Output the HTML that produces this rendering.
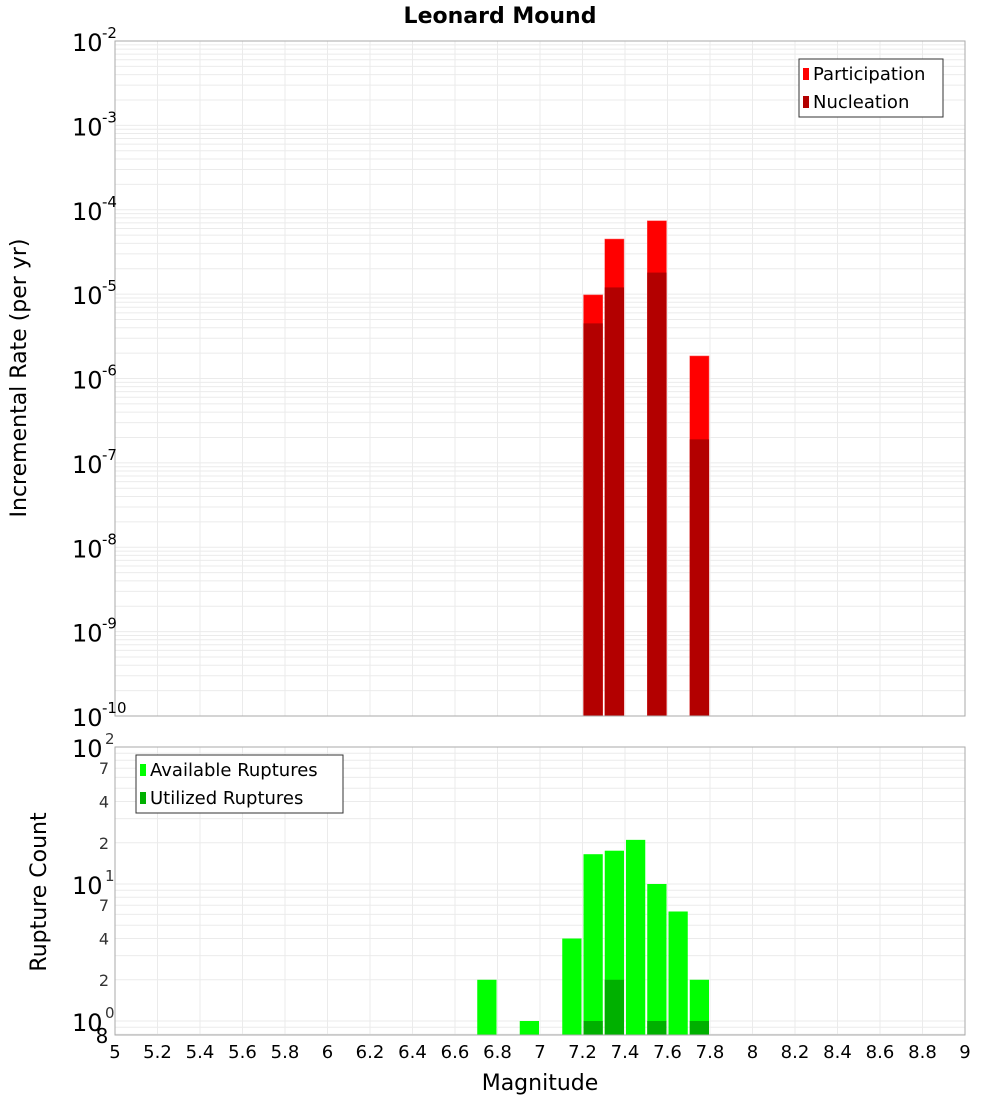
<!DOCTYPE html>
<html><head><meta charset="utf-8"><style>
body{margin:0;background:#fff;}
svg text{font-family:"DejaVu Sans","Liberation Sans",sans-serif;}
</style></head><body>
<svg id="chart" width="1000" height="1100" xmlns="http://www.w3.org/2000/svg"></svg>
<script>
const magnitudes=[6.75,6.95,7.15,7.25,7.35,7.45,7.55,7.65,7.75];
const participation=[0,0,0,9.8e-6,4.5e-5,0,7.4e-5,0,1.85e-6];
const nucleation=[0,0,0,4.5e-6,1.2e-5,0,1.8e-5,0,1.9e-7];
const available=[2,1,4,16.5,17.5,21,10,6.3,2];
const utilized=[0,0,0,1,2,0,1,0,1];
const xTicks=[5,5.2,5.4,5.6,5.8,6,6.2,6.4,6.6,6.8,7,7.2,7.4,7.6,7.8,8,8.2,8.4,8.6,8.8,9];
const topDecades=[-10,-9,-8,-7,-6,-5,-4,-3,-2];
const botDecades=[0,1,2];
const botMinorLabels=[2,4,7];

const NS="http://www.w3.org/2000/svg";
const svg=document.getElementById('chart');
function el(tag,attrs,parent){const e=document.createElementNS(NS,tag);for(const k in attrs)e.setAttribute(k,attrs[k]);(parent||svg).appendChild(e);return e;}
const X0=115,X1=965;
const xs=m=>X0+(m-5)/4*(X1-X0);
const T0=41,T1=716;
const yTop=v=>T0+(-2-Math.log10(v))*(T1-T0)/8;
const B0=747,B1=1035;
const yBot=v=>1021-137*Math.log10(v);

el('rect',{x:X0,y:T0,width:X1-X0,height:T1-T0,fill:'#fff',stroke:'none'});
const g=el('g',{stroke:'#ebebeb','stroke-width':1});


xTicks.forEach(t=>{el('line',{x1:xs(t),x2:xs(t),y1:T0,y2:T1},g);el('line',{x1:xs(t),x2:xs(t),y1:B0,y2:B1},g);});
for(let d=-10;d<-2;d++){for(let k=1;k<10;k++){const y=yTop(k*Math.pow(10,d));el('line',{x1:X0,x2:X1,y1:y,y2:y},g);}}
for(let d=-1;d<2;d++){for(let k=1;k<10;k++){const y=yBot(k*Math.pow(10,d));if(y>=B0&&y<=B1)el('line',{x1:X0,x2:X1,y1:y,y2:y},g);}}

magnitudes.forEach((m,i)=>{
  const xa=xs(m-0.05)+1,w=xs(m+0.05)-xs(m-0.05)-2;
  if(participation[i]>0){const r=el('rect',{x:xa,y:yTop(participation[i]),width:w,height:T1-yTop(participation[i]),fill:'#ff0000',stroke:'#ff6060','stroke-width':0.5});
    }
  if(nucleation[i]>0){const r=el('rect',{x:xa,y:yTop(nucleation[i]),width:w,height:T1-yTop(nucleation[i]),fill:'#b30000'});
    }
  if(available[i]>0){const y=Math.max(B0,yBot(available[i]));const r=el('rect',{x:xa,y:y,width:w,height:B1-y,fill:'#00ff00'});
    }
  if(utilized[i]>0){const y=yBot(utilized[i]);const r=el('rect',{x:xa,y:y,width:w,height:B1-y,fill:'#00b000'});
    }
});

el('rect',{x:X0,y:T0,width:X1-X0,height:T1-T0,fill:'none',stroke:'#aaa'});
el('rect',{x:X0,y:B0,width:X1-X0,height:B1-B0,fill:'none',stroke:'#aaa'});

const ti=el('text',{x:500,y:23,'text-anchor':'middle','font-size':22,'font-weight':'bold'});ti.textContent='Leonard Mound';


topDecades.forEach(d=>{
  const y=yTop(Math.pow(10,d));
  const t=el('text',{x:72,y:y+10,'font-size':24});t.textContent='10';
  
  const s=el('text',{x:102,y:y-3,'font-size':15});s.textContent=String(d);
  
});
botDecades.forEach(d=>{
  const y=yBot(Math.pow(10,d));
  const t=el('text',{x:72,y:y+10,'font-size':24});t.textContent='10';
  
  const s=el('text',{x:105,y:y-3,'font-size':15,fill:'#333'});s.textContent=String(d);
  
  if(d<2)botMinorLabels.forEach(k=>{
    const yy=yBot(k*Math.pow(10,d));
    const m=el('text',{x:104,y:yy+6,'font-size':16,'text-anchor':'middle',fill:'#333'});m.textContent=String(k);
    
  });
});
const e8=el('text',{x:102,y:1043,'font-size':20,'text-anchor':'middle'});e8.textContent='8';


xTicks.forEach(t=>{
  const tx=el('text',{x:xs(t),y:1058,'font-size':18,'text-anchor':'middle'});tx.textContent=String(t);
  
});
const xt=el('text',{x:540,y:1090,'font-size':22,'text-anchor':'middle'});xt.textContent='Magnitude';

const yt=el('text',{x:0,y:0,'font-size':22,'text-anchor':'middle',transform:'translate(26,378) rotate(-90)'});yt.textContent='Incremental Rate (per yr)';

const yt2=el('text',{x:0,y:0,'font-size':22,'text-anchor':'middle',transform:'translate(46,892) rotate(-90)'});yt2.textContent='Rupture Count';


function legend(x,y,w,items,name){
  const lg=el('g',{});
  
  el('rect',{x:x,y:y,width:w,height:58,fill:'#fff',stroke:'#333'},lg);
  items.forEach((it,i)=>{
    el('rect',{x:x+4,y:y+9+i*28,width:6,height:12,fill:it[1]},lg);
    const t=el('text',{x:x+14,y:y+21+i*28,'font-size':18},lg);t.textContent=it[0];
  });
}
legend(799,59,144,[['Participation','#ff0000'],['Nucleation','#b30000']],'rate-legend');
legend(136,755,207,[['Available Ruptures','#00ff00'],['Utilized Ruptures','#00b000']],'count-legend');
</script>
</body></html>
